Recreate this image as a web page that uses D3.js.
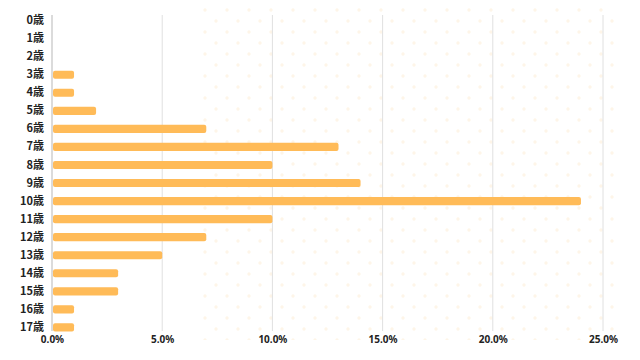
<!DOCTYPE html>
<html><head><meta charset="utf-8">
<script src="https://cdn.jsdelivr.net/npm/d3@7/dist/d3.min.js"></script>
<style>
html,body{margin:0;padding:0;background:#fff;}
svg{display:block;}
text{font-family:"Noto Sans CJK JP","Noto Sans",sans-serif;}
</style></head>
<body>
<svg id="chart" width="640" height="360"></svg>
<script>
const categories = ["0歳","1歳","2歳","3歳","4歳","5歳","6歳","7歳","8歳","9歳","10歳","11歳","12歳","13歳","14歳","15歳","16歳","17歳"];
const values = [0,0,0,1,1,2,7,13,10,14,24,10,7,5,3,3,1,1];
const tickValues = [0,5,10,15,20,25];
const tickLabels = ["0.0%","5.0%","10.0%","15.0%","20.0%","25.0%"];

const svg = d3.select("#chart");

// decorative dot pattern
const defs = svg.append("defs");
const pat = defs.append("pattern").attr("id","dots").attr("patternUnits","userSpaceOnUse")
  .attr("width",22).attr("height",22).attr("x",200).attr("y",5);
pat.append("circle").attr("cx",5).attr("cy",5).attr("r",1.7).attr("fill","#fef5e8");
pat.append("circle").attr("cx",16).attr("cy",16).attr("r",1.7).attr("fill","#fef5e8");
svg.append("rect").attr("x",200).attr("y",5).attr("width",418).attr("height",335).attr("fill","url(#dots)");

const x = d3.scaleLinear().domain([0,25]).range([52,603]);
const y = d3.scaleBand().domain(categories).range([12,336]).paddingInner(0.55).paddingOuter(0.25);

// gridlines
svg.append("g").selectAll("line").data(tickValues).join("line")
  .attr("x1",d=>x(d)).attr("x2",d=>x(d)).attr("y1",15).attr("y2",331)
  .attr("stroke",d=>d===0?"#cfcfcf":"#e0e0e0").attr("stroke-width",d=>d===0?1.5:1);

// bars
svg.append("g").selectAll("rect").data(values.map((v,i)=>({c:categories[i],v}))).join("rect")
  .attr("x",x(0)+1).attr("y",d=>y(d.c)).attr("height",y.bandwidth())
  .attr("width",d=>Math.max(0,x(d.v)-x(0)-1)).attr("rx",d=>d.v>0?2:0)
  .attr("fill","#FFBB58");

// y axis labels
const yAxis = d3.axisLeft(y).tickSize(0).tickPadding(6);
const gy = svg.append("g").attr("transform","translate(50,0)").call(yAxis);
gy.select(".domain").remove();
gy.selectAll("text").attr("font-size",11).attr("font-weight","bold").attr("fill","#222")
  .style("font-family",'"Noto Sans CJK JP","Noto Sans",sans-serif');

// x axis labels
const xAxis = d3.axisBottom(x).tickValues(tickValues).tickFormat((d,i)=>tickLabels[i]).tickSize(0).tickPadding(0);
const gx = svg.append("g").attr("transform","translate(0,336)").call(xAxis);
gx.select(".domain").remove();
gx.selectAll("text").attr("dy","0.71em").attr("font-size",10).attr("font-weight","bold").attr("fill","#222")
  .style("font-family",'"Noto Sans","Noto Sans CJK JP",sans-serif');
</script>
</body></html>
